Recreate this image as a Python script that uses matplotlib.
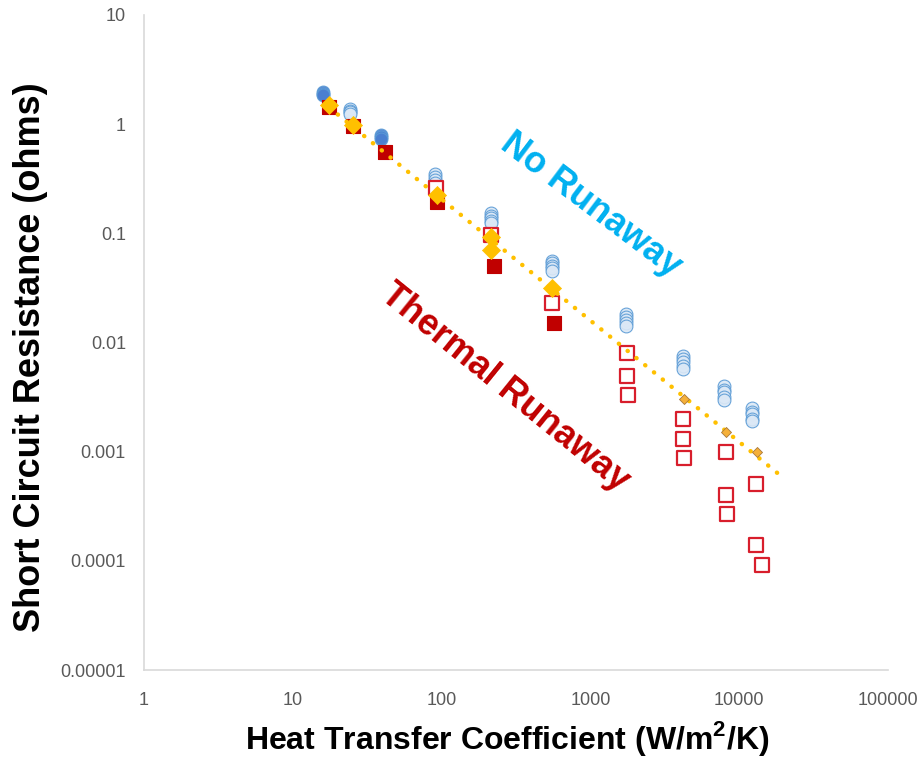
"""Short-circuit resistance vs heat transfer coefficient (log-log scatter)."""

import matplotlib
matplotlib.use("Agg")
import matplotlib.pyplot as plt
import numpy as np

plt.rcParams["font.family"] = ["Liberation Sans", "DejaVu Sans"]
plt.rcParams["mathtext.fontset"] = "custom"
plt.rcParams["mathtext.rm"] = "Liberation Sans"
plt.rcParams["mathtext.bf"] = "Liberation Sans:bold"

# --- data ------------------------------------------------------------------
# No runaway: each cluster is a stack of near-identical runs
no_runaway_h = [16, 24.2, 39.2, 90.3, 215, 552, 1735, 4190, 7906, 12190]
no_runaway_r = [
    [1.95, 1.89, 1.84],
    [1.38, 1.33, 1.28, 1.24],
    [0.80, 0.76, 0.73],
    [0.35, 0.33, 0.31, 0.29],
    [0.154, 0.145, 0.137, 0.130, 0.124],
    [0.056, 0.053, 0.050, 0.048, 0.045],
    [0.0183, 0.0172, 0.0162, 0.0152, 0.0142],
    [0.0075, 0.0070, 0.0066, 0.0061, 0.0057],
    [0.0040, 0.0037, 0.0035, 0.0032, 0.0030],
    [0.0025, 0.0023, 0.0022, 0.0020, 0.0019],
]

# Thermal runaway, filled squares
runaway_fill_h = [17.5, 25.4, 41.6, 93.2, 225, 569]
runaway_fill_r = [1.44, 0.96, 0.556, 0.194, 0.0503, 0.0151]

# Thermal runaway, open squares
runaway_open_h = [91.7, 215, 552, 1762, 1762, 1790, 4190, 4190, 4270,
                  8150, 8150, 8240, 12970, 12970, 14230]
runaway_open_r = [0.26, 0.0967, 0.0231, 0.00803, 0.00494, 0.00331, 0.00200,
                  0.00131, 0.000877, 0.000996, 0.000402, 0.000269, 0.000507,
                  0.000140, 0.0000919]

# Threshold points (diamonds) used for the power-law trendline
threshold_h = [17.5, 25.4, 93.2, 215, 215, 552]
threshold_r = [1.50, 0.98, 0.225, 0.0927, 0.0705, 0.0316]
threshold_small_h = [4230, 8150, 13160]
threshold_small_r = [0.00305, 0.00152, 0.000995]
trend_end_h = 20000

x_ticks = [1, 10, 100, 1000, 10000, 100000]
x_labels = ["1", "10", "100", "1000", "10000", "100000"]
y_ticks = [1e-5, 1e-4, 1e-3, 1e-2, 1e-1, 1, 10]
y_labels = ["0.00001", "0.0001", "0.001", "0.01", "0.1", "1", "10"]

# --- figure -----------------------------------------------------------------
fig = plt.figure(figsize=(9.21, 7.6), dpi=100)
ax = fig.add_axes([0.1564, 0.1184, 0.8078, 0.8619])
ax.set_xscale("log")
ax.set_yscale("log")
ax.set_xlim(1, 100000)
ax.set_ylim(1e-5, 10)

# blue stacks
for i, (h, rs) in enumerate(zip(no_runaway_h, no_runaway_r)):
    face = "#4a7fd0" if i in (0, 2) else "#dbe8f6"
    ax.scatter([h] * len(rs), rs, s=85, marker="o", facecolor=face,
               edgecolor="#5b9bd5", linewidth=0.8, alpha=0.9, zorder=2)

ax.scatter(runaway_fill_h, runaway_fill_r, s=115, marker="s",
           facecolor="#c00000", edgecolor="#c00000", linewidth=0.8, zorder=3)
ax.scatter(runaway_open_h, runaway_open_r, s=110, marker="s",
           facecolor="white", edgecolor="#d81e2c", linewidth=1.6, zorder=3)

# power-law trendline through all threshold points, extended forward
all_h = np.array(threshold_h + threshold_small_h)
all_r = np.array(threshold_r + threshold_small_r)
slope, icpt = np.polyfit(np.log10(all_h), np.log10(all_r), 1)
th = np.array([all_h.min(), trend_end_h])
ax.plot(th, 10 ** (icpt + slope * np.log10(th)), color="#ffc000",
        linewidth=3.2, linestyle=(0, (0.05, 2.5)), dash_capstyle="round",
        solid_capstyle="round", zorder=4)

ax.scatter(threshold_h, threshold_r, s=85, marker="D", facecolor="#ffc000",
           edgecolor="#ffc000", linewidth=0.5, zorder=5)
ax.scatter(threshold_small_h, threshold_small_r, s=26, marker="D",
           facecolor="#f5b03a", edgecolor="#a8783a", linewidth=0.6, zorder=5)

ax.text(1009, 0.182, "No Runaway", color="#00b0f0", fontsize=26,
        fontweight="bold", rotation=-37, ha="center", va="center",
        rotation_mode="anchor")
ax.text(267, 0.00384, "Thermal Runaway", color="#c00000", fontsize=26,
        fontweight="bold", rotation=-39, ha="center", va="center",
        rotation_mode="anchor")

ax.xaxis.set_major_locator(matplotlib.ticker.FixedLocator(x_ticks))
ax.yaxis.set_major_locator(matplotlib.ticker.FixedLocator(y_ticks))
ax.xaxis.set_minor_locator(matplotlib.ticker.NullLocator())
ax.yaxis.set_minor_locator(matplotlib.ticker.NullLocator())
ax.set_xticklabels(x_labels)
ax.set_yticklabels(y_labels)
ax.tick_params(axis="both", length=0, labelsize=13, labelcolor="#595959")
ax.tick_params(axis="x", pad=16)
ax.tick_params(axis="y", pad=13)

for side in ("top", "right"):
    ax.spines[side].set_visible(False)
for side in ("left", "bottom"):
    ax.spines[side].set_color("#d9d9d9")
    ax.spines[side].set_linewidth(1.2)

fig.text(0.551, 0.014, "Heat Transfer Coefficient (W/m$^{\\mathbf{2}}$/K)",
         fontsize=23, fontweight="bold", ha="center", va="baseline")
fig.text(0.033, 0.530, "Short Circuit Resistance (ohms)", fontsize=26,
         fontweight="bold", rotation=90, ha="center", va="center")

fig.savefig("out.png", dpi=100)
